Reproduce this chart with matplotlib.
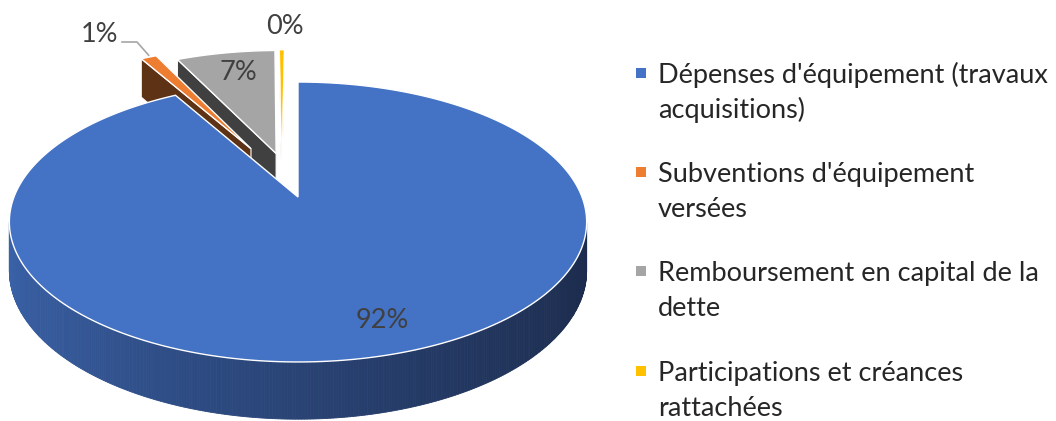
import numpy as np
import matplotlib.pyplot as plt
from matplotlib.patches import Polygon

# data
categories = ["Dépenses d'équipement (travaux\nacquisitions)",
              "Subventions d'équipement\nversées",
              "Remboursement en capital de la\ndette",
              "Participations et créances\nrattachées"]
values = [91.7, 1.1, 6.9, 0.3]
pct_labels = ['92%', '1%', '7%', '0%']
explode = [0.0, 0.42, 0.35, 0.35]

top_colors = ['#4472c4', '#ed7d31', '#a5a5a5', '#ffc000']
cut_colors = ['#2f528f', '#5e3214', '#404040', '#8a6a10']
wall_left = [(0.23, 0.39, 0.67), (0.55, 0.28, 0.10), (0.45, 0.45, 0.45), (0.6, 0.45, 0.0)]
wall_right = [(0.11, 0.17, 0.30), (0.30, 0.15, 0.05), (0.20, 0.20, 0.20), (0.35, 0.25, 0.0)]

# layout of the fake 3d pie (pixels)
W, H = 1056, 421
CX, CY = 298, 197
R, B, K, D = 284, 135.5, 0.1786, 47
explode_turn = [0, 3, 0, -9.5]   # degrees, Excel pushes the small slices a bit sideways
label_xy = [(382, 320), (100, 35), (238, 72), (285, 27)]
cam = np.array([0.0, -1.0 / K])


def proj(u, v, z=0.0):
    s = 1 + K * v
    return CX + R * u / s, CY - B * v / s + z * D / s


fig = plt.figure(figsize=(W / 100, H / 100), dpi=100)
ax = fig.add_axes([0, 0, 1, 1])
ax.set_xlim(0, W)
ax.set_ylim(H, 0)
ax.axis('off')

total = sum(values)
angles = np.cumsum([0] + values) / total * 2 * np.pi
slices = []
for i in range(len(values)):
    a0, a1 = angles[i], angles[i + 1]
    mid = (a0 + a1) / 2
    d = mid + np.radians(explode_turn[i])
    ou, ov = explode[i] * np.sin(d), explode[i] * np.cos(d)
    slices.append((i, a0, a1, mid, ou, ov))

# back slices first
slices.sort(key=lambda s: -np.cos(s[3]))

for i, a0, a1, mid, ou, ov in slices:
    # outer wall, only the part facing the viewer
    t = np.linspace(a0, a1, max(3, int((a1 - a0) * 120)))
    for t0, t1 in zip(t[:-1], t[1:]):
        tm = (t0 + t1) / 2
        n = np.array([np.sin(tm), np.cos(tm)])
        p = np.array([ou, ov]) + n
        if n @ (cam - p) <= 0:
            continue
        f = (np.sin(tm) + 1) / 2
        f = f ** 0.8
        col = tuple(wall_left[i][c] * (1 - f) + wall_right[i][c] * f for c in range(3))
        pts = [proj(ou + np.sin(t0), ov + np.cos(t0)), proj(ou + np.sin(t1), ov + np.cos(t1)),
               proj(ou + np.sin(t1), ov + np.cos(t1), 1), proj(ou + np.sin(t0), ov + np.cos(t0), 1)]
        ax.add_patch(Polygon(pts, closed=True, facecolor=col, edgecolor=col, lw=0.6))

    # cut faces
    for a, n in ((a0, np.array([-np.cos(a0), np.sin(a0)])), (a1, np.array([np.cos(a1), -np.sin(a1)]))):
        if values[i] / total > 0.5:
            continue
        if n @ (cam - np.array([ou, ov])) <= 0:
            continue
        ru, rv = ou + np.sin(a), ov + np.cos(a)
        pts = [proj(ou, ov), proj(ru, rv), proj(ru, rv, 1), proj(ou, ov, 1)]
        ax.add_patch(Polygon(pts, closed=True, facecolor=cut_colors[i], edgecolor='white', lw=0.8))

    # top face
    t = np.linspace(a0, a1, max(3, int((a1 - a0) * 120)))
    pts = [proj(ou, ov)] + [proj(ou + np.sin(x), ov + np.cos(x)) for x in t]
    ax.add_patch(Polygon(pts, closed=True, facecolor=top_colors[i], edgecolor='white',
                         lw=1.0 if values[i] > 1 else 0.4))

# data labels
for i, txt in enumerate(pct_labels):
    ax.text(label_xy[i][0], label_xy[i][1], txt, fontsize=19.5, family='Lato',
            color='#404040', ha='center', va='center')

# leader line for the small slice
i = 1
mid = (angles[i] + angles[i + 1]) / 2
d = mid + np.radians(explode_turn[i])
tip = proj(np.sin(mid) + explode[i] * np.sin(d), np.cos(mid) + explode[i] * np.cos(d))
lx, ly = label_xy[i]
ax.plot([lx + 22, lx + 37, tip[0]], [ly + 7, ly + 7, tip[1] - 2], color='#a6a6a6', lw=1.2)

# legend
leg_y = [73, 172, 271, 371]
for i, name in enumerate(categories):
    ax.add_patch(Polygon([(636, leg_y[i] - 5), (646, leg_y[i] - 5), (646, leg_y[i] + 5), (636, leg_y[i] + 5)],
                         closed=True, facecolor=top_colors[i], edgecolor='none'))
    for j, line in enumerate(name.split('\n')):
        ax.text(658, leg_y[i] + 10 + 35 * j, line, fontsize=19.5, family='Lato',
                color='#262626', ha='left', va='baseline')

fig.savefig('out.png', dpi=100)
